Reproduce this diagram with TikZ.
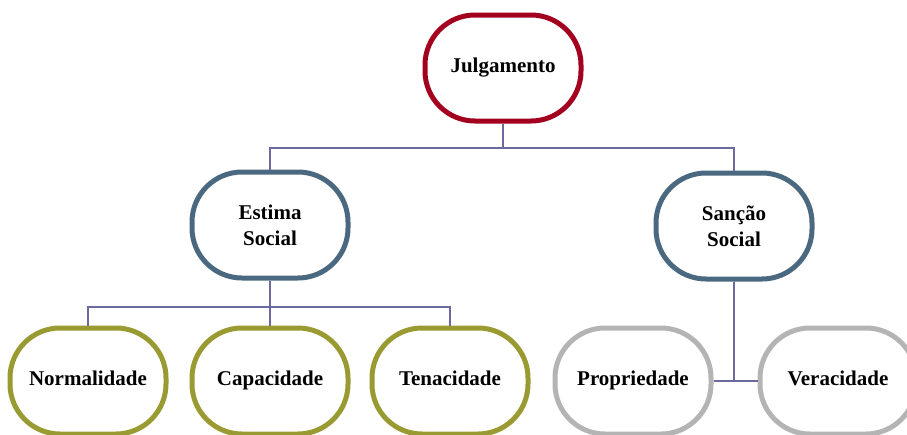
\documentclass[tikz,border=0pt]{standalone}
\usepackage{fontspec}
\setmainfont{Liberation Serif}
\usetikzlibrary{calc}
\definecolor{jred}{HTML}{A3001F}
\definecolor{eblue}{HTML}{4A6880}
\definecolor{olive}{HTML}{9A9A32}
\definecolor{lgray}{HTML}{B4B4B4}
\definecolor{conn}{HTML}{6A6A9E}
\tikzset{
  box/.style={rectangle, outer sep=2.5pt, minimum width=156pt, minimum height=106pt,
    align=center, inner sep=2pt, font=\fontsize{21}{26}\selectfont\bfseries},
  oneline/.style={text height=14pt, text depth=4.5pt},
  link/.style={draw=conn, line width=1.5pt},
  frame/.style={line width=5pt}
}
\def\rr{50pt}
\def\rk{22.4pt}
\newcommand\stadium[2]{%
  \path[frame, draw=#2] let \p1=($(#1.north west)+(2.5pt,-2.5pt)$), \p2=($(#1.south east)+(-2.5pt,2.5pt)$) in
    (\x1,{\y1-\rr}) -- (\x1,{\y2+\rr})
    .. controls (\x1,{\y2+\rk}) and ({\x1+\rk},\y2) .. ({\x1+\rr},\y2)
    -- ({\x2-\rr},\y2)
    .. controls ({\x2-\rk},\y2) and (\x2,{\y2+\rk}) .. (\x2,{\y2+\rr})
    -- (\x2,{\y1-\rr})
    .. controls (\x2,{\y1-\rk}) and ({\x2-\rk},\y1) .. ({\x2-\rr},\y1)
    -- ({\x1+\rr},\y1)
    .. controls ({\x1+\rk},\y1) and (\x1,{\y1-\rk}) .. (\x1,{\y1-\rr})
    -- cycle;}
\begin{document}
\begin{tikzpicture}[x=1pt,y=-1pt]
\useasboundingbox (0,0) rectangle (907,434);
\node[box, oneline] (J) at (503,68) {Julgamento};
\node[box] (E) at (270,225) {Estima\\Social};
\node[box] (S) at (734,226) {Sanção\\Social};
\node[box, oneline] (N) at (88,381) {Normalidade};
\node[box, oneline] (C) at (270,381) {Capacidade};
\node[box, oneline] (T) at (450,381) {Tenacidade};
\node[box, oneline] (P) at (633,381) {Propriedade};
\node[box, oneline] (V) at (838,381) {Veracidade};
\stadium{J}{jred}
\stadium{E}{eblue}
\stadium{S}{eblue}
\stadium{N}{olive}
\stadium{C}{olive}
\stadium{T}{olive}
\stadium{P}{lgray}
\stadium{V}{lgray}
\coordinate (jbus) at (503,148);
\coordinate (ebus) at (270,307);
\coordinate (sbus) at (734,382);
\draw[link] (J.south) -- (jbus);
\draw[link] (E.north) |- (jbus) -| (S.north);
\draw[link] (E.south) -- (C.north);
\draw[link] (N.north) |- (ebus) -| (T.north);
\draw[link] (S.south) -- (sbus);
\draw[link] (P.east) -- (V.west);
\end{tikzpicture}
\end{document}
